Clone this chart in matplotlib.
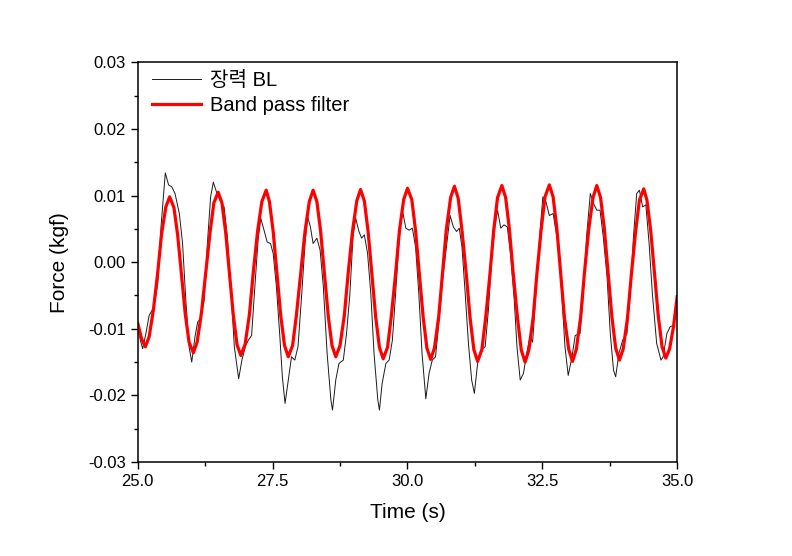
import matplotlib
matplotlib.use('Agg')
import matplotlib.pyplot as plt
from matplotlib.ticker import MultipleLocator

plt.rcParams['font.family'] = ['Liberation Sans', 'Noto Sans CJK KR', 'DejaVu Sans']

# raw tension signal
t_raw = [25.00, 25.05, 25.09, 25.15, 25.21, 25.30, 25.37, 25.43, 25.51, 25.57,
         25.63, 25.69, 25.77, 25.83, 25.89, 25.95, 26.00, 26.06, 26.11, 26.17,
         26.23, 26.29, 26.35, 26.40, 26.46, 26.54, 26.60, 26.66, 26.73, 26.79,
         26.87, 26.93, 27.00, 27.05, 27.11, 27.17, 27.23, 27.28, 27.34, 27.40,
         27.46, 27.51, 27.57, 27.63, 27.68, 27.73, 27.79, 27.85, 27.91, 27.97,
         28.04, 28.10, 28.15, 28.20, 28.25, 28.32, 28.38, 28.44, 28.51, 28.58,
         28.61, 28.67, 28.73, 28.81, 28.87, 28.93, 28.99, 29.04, 29.10, 29.15,
         29.20, 29.26, 29.32, 29.38, 29.45, 29.48, 29.53, 29.60, 29.66, 29.72,
         29.78, 29.84, 29.90, 29.97, 30.03, 30.09, 30.15, 30.21, 30.27, 30.34,
         30.40, 30.46, 30.52, 30.58, 30.65, 30.73, 30.79, 30.85, 30.91, 30.96,
         31.01, 31.07, 31.13, 31.19, 31.24, 31.30, 31.36, 31.44, 31.50, 31.56,
         31.62, 31.67, 31.73, 31.79, 31.85, 31.91, 31.98, 32.03, 32.09, 32.15,
         32.21, 32.27, 32.32, 32.38, 32.45, 32.51, 32.57, 32.63, 32.70, 32.80,
         32.86, 32.92, 32.98, 33.05, 33.11, 33.20, 33.26, 33.32, 33.39, 33.45,
         33.51, 33.57, 33.63, 33.70, 33.76, 33.82, 33.86, 33.92, 33.99, 34.07,
         34.13, 34.19, 34.25, 34.30, 34.36, 34.42, 34.48, 34.54, 34.62, 34.70,
         34.74, 34.81, 34.87, 34.93, 35.00]
f_raw = [-0.0098, -0.0118, -0.0130, -0.0107, -0.0080, -0.0067, -0.0032, 0.0053, 0.0134, 0.0116,
         0.0113, 0.0103, 0.0073, 0.0028, -0.0057, -0.0127, -0.0150, -0.0112, -0.0090, -0.0084,
         -0.0057, 0.0028, 0.0098, 0.0120, 0.0105, 0.0090, 0.0083, 0.0038, -0.0047, -0.0127,
         -0.0175, -0.0147, -0.0125, -0.0117, -0.0110, -0.0037, 0.0033, 0.0066, 0.0048, 0.0030,
         0.0028, 0.0013, -0.0037, -0.0107, -0.0172, -0.0212, -0.0177, -0.0142, -0.0147, -0.0127,
         -0.0047, 0.0028, 0.0068, 0.0053, 0.0028, 0.0036, 0.0018, -0.0037, -0.0137, -0.0207,
         -0.0222, -0.0177, -0.0152, -0.0147, -0.0107, -0.0050, 0.0038, 0.0066, 0.0046, 0.0036,
         0.0041, 0.0013, -0.0047, -0.0137, -0.0207, -0.0222, -0.0182, -0.0152, -0.0147, -0.0117,
         -0.0047, 0.0028, 0.0080, 0.0051, 0.0048, 0.0051, 0.0023, -0.0047, -0.0137, -0.0205,
         -0.0167, -0.0147, -0.0142, -0.0092, -0.0027, 0.0028, 0.0070, 0.0053, 0.0046, 0.0051,
         0.0023, -0.0047, -0.0122, -0.0177, -0.0197, -0.0152, -0.0132, -0.0127, -0.0072, 0.0003,
         0.0053, 0.0078, 0.0051, 0.0056, 0.0053, 0.0013, -0.0057, -0.0127, -0.0177, -0.0167,
         -0.0137, -0.0112, -0.0120, -0.0047, 0.0038, 0.0098, 0.0090, 0.0070, 0.0073, 0.0023,
         -0.0047, -0.0127, -0.0170, -0.0142, -0.0110, -0.0107, -0.0047, 0.0038, 0.0103, 0.0088,
         0.0078, 0.0078, 0.0038, -0.0022, -0.0107, -0.0162, -0.0172, -0.0137, -0.0117, -0.0107,
         -0.0047, 0.0038, 0.0103, 0.0108, 0.0083, 0.0086, 0.0028, -0.0047, -0.0122, -0.0147,
         -0.0142, -0.0107, -0.0097, -0.0095, -0.0052]

# band pass filtered signal
t_bp = [25.00, 25.07, 25.14, 25.21, 25.29, 25.37, 25.44, 25.52, 25.59, 25.67, 25.74,
        25.81, 25.88, 25.95, 26.03, 26.10, 26.18, 26.26, 26.34, 26.41, 26.49,
        26.56, 26.63, 26.70, 26.77, 26.84, 26.91, 26.99, 27.07, 27.14, 27.22,
        27.30, 27.38, 27.44, 27.51, 27.58, 27.65, 27.72, 27.79, 27.87, 27.94,
        28.02, 28.10, 28.18, 28.25, 28.32, 28.39, 28.46, 28.53, 28.60, 28.67,
        28.75, 28.83, 28.90, 28.98, 29.06, 29.13, 29.20, 29.27, 29.34, 29.41,
        29.48, 29.55, 29.63, 29.70, 29.78, 29.85, 29.93, 30.00, 30.08, 30.15,
        30.22, 30.29, 30.36, 30.43, 30.50, 30.58, 30.65, 30.72, 30.80, 30.87,
        30.94, 31.01, 31.09, 31.16, 31.23, 31.30, 31.38, 31.45, 31.53, 31.60,
        31.67, 31.75, 31.82, 31.89, 31.96, 32.04, 32.11, 32.18, 32.25, 32.33,
        32.40, 32.48, 32.55, 32.63, 32.70, 32.77, 32.84, 32.91, 32.99, 33.06,
        33.13, 33.21, 33.28, 33.36, 33.44, 33.51, 33.58, 33.65, 33.72, 33.79,
        33.86, 33.93, 34.00, 34.08, 34.15, 34.23, 34.30, 34.38, 34.44, 34.51,
        34.58, 34.65, 34.72, 34.79, 34.86, 34.93, 35.00]
f_bp = [-0.0092, -0.0115, -0.0127, -0.0112, -0.0071, -0.0015, 0.0042, 0.0083, 0.0098, 0.0082, 0.0040,
        -0.0019, -0.0078, -0.0120, -0.0136, -0.0120, -0.0076, -0.0016, 0.0045, 0.0089, 0.0105,
        0.0089, 0.0044, -0.0018, -0.0079, -0.0124, -0.0140, -0.0123, -0.0078, -0.0016, 0.0046,
        0.0091, 0.0108, 0.0091, 0.0046, -0.0017, -0.0080, -0.0125, -0.0142, -0.0125, -0.0080,
        -0.0017, 0.0046, 0.0091, 0.0108, 0.0091, 0.0046, -0.0017, -0.0080, -0.0125, -0.0142,
        -0.0125, -0.0079, -0.0017, 0.0046, 0.0092, 0.0109, 0.0092, 0.0046, -0.0018, -0.0082,
        -0.0128, -0.0145, -0.0128, -0.0081, -0.0017, 0.0047, 0.0094, 0.0111, 0.0094, 0.0047,
        -0.0018, -0.0082, -0.0129, -0.0146, -0.0129, -0.0081, -0.0016, 0.0049, 0.0097, 0.0114,
        0.0096, 0.0048, -0.0018, -0.0083, -0.0131, -0.0149, -0.0131, -0.0083, -0.0017, 0.0049,
        0.0097, 0.0115, 0.0097, 0.0049, -0.0017, -0.0084, -0.0132, -0.0150, -0.0132, -0.0083,
        -0.0017, 0.0050, 0.0098, 0.0116, 0.0098, 0.0050, -0.0017, -0.0083, -0.0131, -0.0149,
        -0.0131, -0.0083, -0.0017, 0.0049, 0.0097, 0.0115, 0.0097, 0.0050, -0.0016, -0.0082,
        -0.0129, -0.0147, -0.0130, -0.0083, -0.0019, 0.0046, 0.0093, 0.0110, 0.0093, 0.0047,
        -0.0017, -0.0081, -0.0127, -0.0144, -0.0130, -0.0098, -0.0052]

fig = plt.figure(figsize=(7.92, 5.56), dpi=100)
ax = fig.add_axes([0.174, 0.169, 0.681, 0.719])

ax.plot(t_raw, f_raw, color='#1a1a1a', lw=0.7, label='장력 BL')
ax.plot(t_bp, f_bp, color='#ff0000', lw=2.3, solid_joinstyle='round', label='Band pass filter')

ax.set_xlim(25, 35)
ax.set_ylim(-0.03, 0.03)
ax.xaxis.set_major_locator(MultipleLocator(2.5))
ax.xaxis.set_minor_locator(MultipleLocator(1.25))
ax.yaxis.set_major_locator(MultipleLocator(0.01))
ax.yaxis.set_minor_locator(MultipleLocator(0.005))
ax.xaxis.set_major_formatter(plt.FormatStrFormatter('%.1f'))
ax.yaxis.set_major_formatter(plt.FormatStrFormatter('%.2f'))
ax.tick_params(which='both', direction='out', top=False, right=False, labelsize=12, width=1)
ax.tick_params(which='major', length=5)
ax.tick_params(which='minor', length=3)
for s in ax.spines.values():
    s.set_linewidth(1.1)

ax.set_xlabel('Time (s)', fontsize=15, labelpad=10)
ax.set_ylabel('Force (kgf)', fontsize=15, labelpad=14)

ax.legend(loc='upper left', bbox_to_anchor=(0.01, 1.0), frameon=False,
          fontsize=14.5, handlelength=2.4, borderaxespad=0.15,
          labelspacing=0.3, handletextpad=0.45, borderpad=0.3)

fig.savefig('out.png', dpi=100)
